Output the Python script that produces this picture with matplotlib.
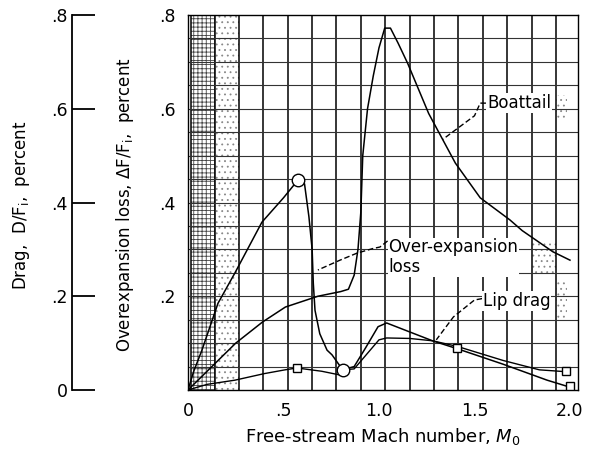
import matplotlib
matplotlib.use("Agg")
import matplotlib.pyplot as plt
from matplotlib.patches import Rectangle

plt.rcParams['font.family'] = ['DejaVu Sans']
plt.rcParams['mathtext.fontset'] = 'dejavusans'
plt.rcParams['hatch.linewidth'] = 0.6

# ---- data ----
boattail_M = [0, 0.10, 0.25, 0.39, 0.51, 0.68, 0.80, 0.84, 0.87, 0.89, 0.905, 0.915,
              0.94, 0.97, 1.00, 1.03, 1.06, 1.10, 1.15, 1.26, 1.40, 1.53, 1.685, 1.75,
              1.91, 2.00]
boattail_V = [0, 0.040, 0.100, 0.145, 0.177, 0.200, 0.210, 0.215, 0.245, 0.300, 0.380,
              0.500, 0.600, 0.670, 0.730, 0.772, 0.772, 0.740, 0.697, 0.590, 0.484,
              0.410, 0.363, 0.340, 0.295, 0.277]

overexp_M = [0, 0.03, 0.073, 0.157, 0.246, 0.387, 0.50, 0.576, 0.61, 0.633, 0.65,
             0.656, 0.665, 0.69, 0.728, 0.754, 0.81, 0.87, 0.93, 0.995, 1.04, 1.16,
             1.28, 1.41, 1.65, 1.88, 2.00]
overexp_V = [0, 0.040, 0.085, 0.185, 0.250, 0.358, 0.410, 0.448, 0.440, 0.370, 0.300,
             0.228, 0.170, 0.120, 0.085, 0.075, 0.043, 0.050, 0.090, 0.135, 0.143,
             0.124, 0.105, 0.088, 0.055, 0.021, 0.006]

lip_M = [0, 0.10, 0.246, 0.40, 0.508, 0.57, 0.70, 0.796, 0.81, 0.87, 1.00, 1.04,
         1.16, 1.28, 1.41, 1.65, 1.84, 1.98]
lip_V = [0, 0.012, 0.021, 0.035, 0.043, 0.047, 0.040, 0.032, 0.043, 0.045, 0.107,
         0.111, 0.110, 0.105, 0.093, 0.063, 0.043, 0.039]

circle_M = [0.576, 0.81]
circle_V = [0.448, 0.043]
square_M = [0.57, 1.41, 1.98, 2.00]
square_V = [0.047, 0.090, 0.040, 0.008]

x_ticks = [0, 0.5, 1.0, 1.5, 2.0]
x_ticklabels = ['0', '.5', '1.0', '1.5', '2.0']
y_ticks = [0.2, 0.4, 0.6, 0.8]
y_ticklabels = ['.2', '.4', '.6', '.8']
drag_ticks = [0, 0.2, 0.4, 0.6, 0.8]
drag_ticklabels = ['0', '.2', '.4', '.6', '.8']

# graph-paper rulings of the scanned sheet
paper_x = [0.016, 0.141, 0.267, 0.393, 0.524, 0.649, 0.775, 0.906, 1.031, 1.162,
           1.288, 1.414, 1.545, 1.670, 1.801, 1.927]
paper_y = [0.05, 0.10, 0.15, 0.20, 0.25, 0.30, 0.35, 0.40, 0.45, 0.50, 0.55, 0.60,
           0.65, 0.70, 0.75]

W, H = 590, 449
fig = plt.figure(figsize=(W / 100, H / 100), dpi=100)
ax = fig.add_axes([188 / W, 59 / H, 390 / W, 375 / H])
ax.set_xlim(0, 2.042)
ax.set_ylim(0, 0.8)

# paper texture
ax.add_patch(Rectangle((0.016, 0), 0.125, 0.8, facecolor='none', edgecolor='#444444',
                       hatch='++++', lw=0, zorder=0.5))
ax.add_patch(Rectangle((0.141, 0), 0.126, 0.8, facecolor='none', edgecolor='#888888',
                       hatch='...', lw=0, zorder=0.5))
ax.add_patch(Rectangle((1.80, 0.25), 0.127, 0.07, facecolor='none', edgecolor='#888888',
                       hatch='...', lw=0, zorder=0.5))
ax.add_patch(Rectangle((1.927, 0.58), 0.06, 0.05, facecolor='none', edgecolor='#888888',
                       hatch='...', lw=0, zorder=0.5))
ax.add_patch(Rectangle((1.927, 0.15), 0.06, 0.08, facecolor='none', edgecolor='#888888',
                       hatch='...', lw=0, zorder=0.5))

for gx in paper_x:
    ax.axvline(gx, color='black', lw=1.1, zorder=1)
for gy in paper_y:
    ax.axhline(gy, color='#333333', lw=0.8, zorder=1)

# curves
ax.plot(boattail_M, boattail_V, color='black', lw=1.1, zorder=3)
ax.plot(overexp_M, overexp_V, color='black', lw=1.1, zorder=3)
ax.plot(lip_M, lip_V, color='black', lw=1.0, zorder=3)
ax.plot(circle_M, circle_V, ls='none', marker='o', ms=9, mfc='white', mec='black',
        mew=1.0, zorder=4)
ax.plot(square_M, square_V, ls='none', marker='s', ms=6, mfc='white', mec='black',
        mew=1.0, zorder=4)

# labels with leaders
tkw = dict(fontsize=12, va='center', ha='left', zorder=5,
           bbox=dict(facecolor='white', edgecolor='none', pad=0.5))
ax.text(1.565, 0.612, 'Boattail', **tkw)
ax.plot([1.56, 1.53, 1.50, 1.335], [0.612, 0.612, 0.585, 0.535], color='black',
        lw=1.0, ls=(0, (4, 2)), zorder=4)
ax.text(1.05, 0.283, 'Over-expansion\nloss', linespacing=1.15, **tkw)
ax.plot([1.045, 1.005, 0.97, 0.885, 0.796, 0.68], [0.318, 0.305, 0.302, 0.292, 0.277,
        0.256], color='black', lw=1.0, ls=(0, (4, 2)), zorder=4)
ax.text(1.545, 0.19, 'Lip drag', **tkw)
ax.plot([1.54, 1.50, 1.39, 1.30], [0.195, 0.192, 0.156, 0.107], color='black', lw=1.0,
        ls=(0, (4, 2)), zorder=4)

for s in ax.spines.values():
    s.set_linewidth(1.0)
ax.set_xticks(x_ticks)
ax.set_xticklabels(x_ticklabels)
ax.set_yticks(y_ticks)
ax.set_yticklabels(y_ticklabels)
ax.tick_params(axis='both', length=0, labelsize=12.5)
ax.tick_params(axis='x', pad=9)
ax.tick_params(axis='y', pad=9)
ax.set_xlabel('Free-stream Mach number, $M_0$', fontsize=13, labelpad=4)

# left drag scale
ax2 = fig.add_axes([72 / W, 59 / H, 0.05, 375 / H])
ax2.set_ylim(0, 0.8)
ax2.set_xlim(0, 1)
for k in ['top', 'right', 'bottom']:
    ax2.spines[k].set_visible(False)
ax2.spines['left'].set_linewidth(1.3)
ax2.patch.set_visible(False)
ax2.set_xticks([])
ax2.set_yticks(drag_ticks)
ax2.set_yticklabels(drag_ticklabels)
ax2.tick_params(axis='y', direction='in', length=16.5, width=1.3, labelsize=12.5, pad=3)

fig.text(22 / W, 1 - 205 / H, 'Drag,  $\\mathregular{D/F_i}$,  percent', rotation=90,
         ha='center', va='center', fontsize=12)
fig.text(125 / W, 1 - 205 / H, 'Overexpansion loss, $\\mathregular{\\Delta F/F_i}$,  percent',
         rotation=90, ha='center', va='center', fontsize=12)

fig.savefig('out.png', dpi=100)
